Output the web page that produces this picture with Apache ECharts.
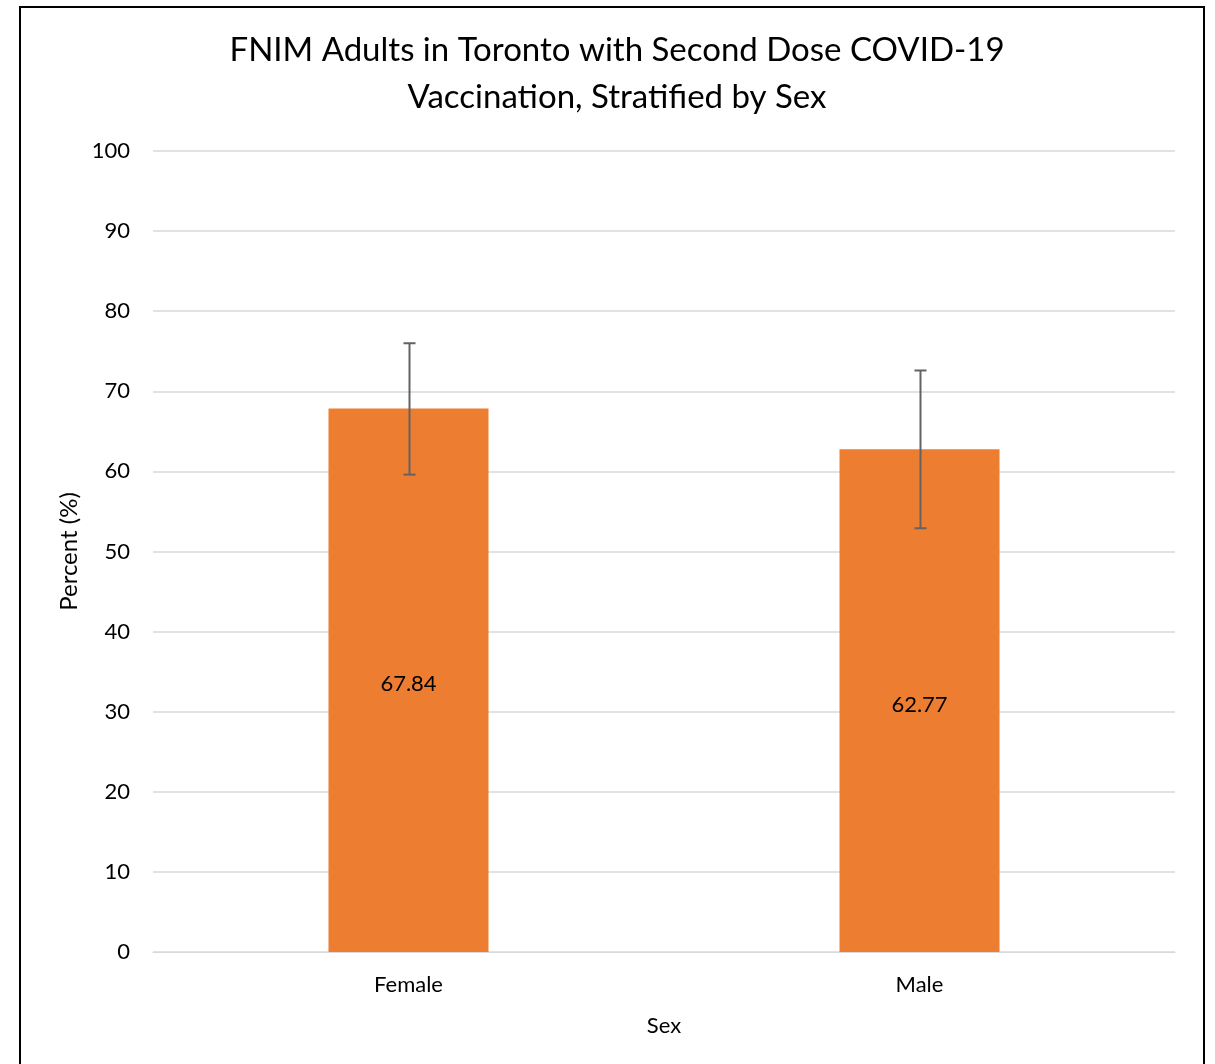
<!DOCTYPE html>
<html><head><meta charset="utf-8">
<script src="https://cdn.jsdelivr.net/npm/echarts@6/dist/echarts.min.js"></script>
<style>html,body{margin:0;padding:0;background:#fff}#c{width:1215px;height:1064px}</style>
</head><body><div id="c"></div>
<script>
const categories = ['Female', 'Male'];
const values = [67.84, 62.77];
const errLow = [59.6, 52.9];
const errHigh = [76.0, 72.6];
const yTicks = [0, 10, 20, 30, 40, 50, 60, 70, 80, 90, 100];

const FONT = 'Lato';
const chart = echarts.init(document.getElementById('c'));
chart.setOption({
  animation: false,
  backgroundColor: '#fff',
  title: {
    text: 'FNIM Adults in Toronto with Second Dose COVID-19\nVaccination, Stratified by Sex',
    left: 612, top: 22, textAlign: 'center',
    textStyle: {fontFamily: FONT, fontSize: 33, fontWeight: 'normal', color: '#000', lineHeight: 47}
  },
  graphic: [{type: 'rect', shape: {x: 20, y: 7, width: 1184, height: 1080}, style: {fill: 'none', stroke: '#000', lineWidth: 2}, silent: true}],
  grid: {left: 153, right: 40, top: 151, bottom: 112, containLabel: false},
  xAxis: {
    type: 'category', data: categories,
    name: 'Sex', nameLocation: 'middle', nameGap: 63,
    nameTextStyle: {fontFamily: FONT, fontSize: 22, color: '#000'},
    axisLine: {show: true, lineStyle: {color: '#d9d9d9', width: 1}},
    axisTick: {show: false},
    axisLabel: {fontFamily: FONT, fontSize: 22, color: '#000', margin: 22}
  },
  yAxis: {
    type: 'value', min: 0, max: 100, interval: 10,
    name: 'Percent (%)', nameLocation: 'middle', nameGap: 71,
    nameTextStyle: {fontFamily: FONT, fontSize: 24, color: '#000'},
    axisLine: {show: false}, axisTick: {show: false},
    axisLabel: {fontFamily: FONT, fontSize: 22, color: '#000', margin: 23,
      formatter: v => yTicks.includes(v) ? String(v) : ''},
    splitLine: {lineStyle: {color: '#d9d9d9', width: 1.5}}
  },
  series: [{
    type: 'bar', data: values, barWidth: 160,
    itemStyle: {color: '#ED7D31'},
    label: {show: true, position: 'inside', offset: [0, 4], fontFamily: FONT, fontSize: 22, color: '#000',
      formatter: p => p.value.toFixed(2)}
  }, {
    type: 'custom', z: 10,
    data: categories.map((c, i) => [i, errLow[i], errHigh[i]]),
    renderItem: (params, api) => {
      const lo = api.coord([api.value(0), api.value(1)]);
      const hi = api.coord([api.value(0), api.value(2)]);
      const x = Math.round(lo[0]) + 0.5, hw = 6;
      const st = {stroke: '#636363', lineWidth: 2};
      return {type: 'group', children: [
        {type: 'line', shape: {x1: x, y1: hi[1], x2: x, y2: lo[1]}, style: st},
        {type: 'line', shape: {x1: x - hw, y1: hi[1], x2: x + hw, y2: hi[1]}, style: st},
        {type: 'line', shape: {x1: x - hw, y1: lo[1], x2: x + hw, y2: lo[1]}, style: st}
      ]};
    }
  }]
});
</script></body></html>
